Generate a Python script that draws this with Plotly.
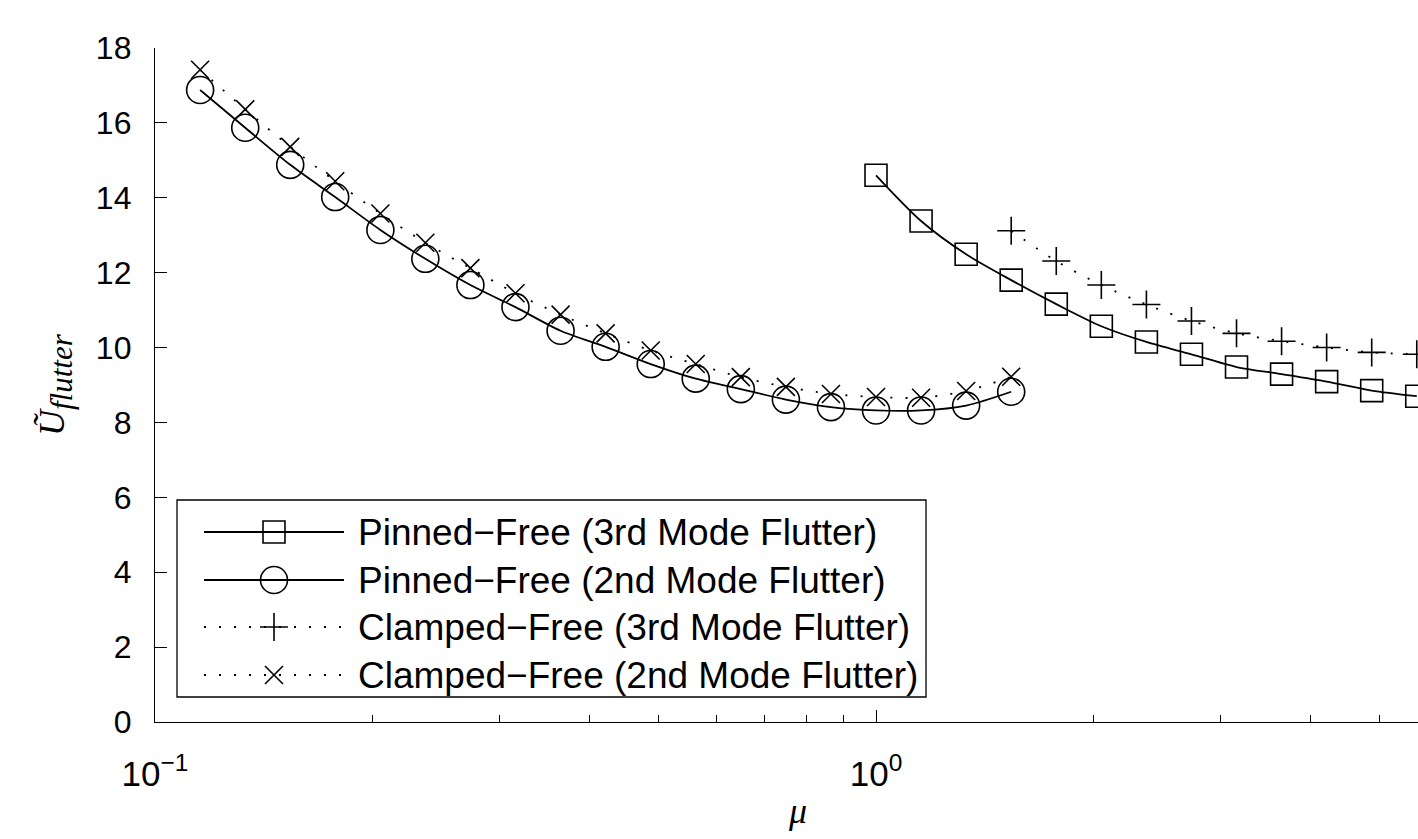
import plotly.graph_objects as go

# ---- data -------------------------------------------------------------
# mass ratio values (log spaced, 16 per decade)
mu_2nd = [0.1155, 0.1334, 0.1540, 0.1778, 0.2054, 0.2371, 0.2738, 0.3162,
          0.3652, 0.4217, 0.4870, 0.5623, 0.6494, 0.7499, 0.8660, 1.0,
          1.1548, 1.3335, 1.5399]
mu_pinned_3rd = [1.0, 1.1548, 1.3335, 1.5399, 1.7783, 2.0535, 2.3714,
                 2.7384, 3.1623, 3.6517, 4.2170, 4.8697, 5.6234]
mu_clamped_3rd = [1.5399, 1.7783, 2.0535, 2.3714, 2.7384, 3.1623, 3.6517,
                  4.2170, 4.8697, 5.6234]

u_pinned_2nd = [16.88, 15.87, 14.88, 14.02, 13.14, 12.37, 11.67, 11.08,
                10.45, 10.02, 9.56, 9.17, 8.89, 8.61, 8.41, 8.32, 8.32,
                8.45, 8.82]
u_clamped_2nd = [17.42, 16.36, 15.36, 14.44, 13.58, 12.80, 12.12, 11.45,
                 10.88, 10.38, 9.92, 9.56, 9.21, 8.95, 8.76, 8.68, 8.66,
                 8.84, 9.22]
u_pinned_3rd = [14.6, 13.38, 12.49, 11.8, 11.16, 10.57, 10.15, 9.82, 9.48,
                9.29, 9.09, 8.85, 8.7]
u_clamped_3rd = [13.12, 12.31, 11.67, 11.15, 10.71, 10.38, 10.17, 10.0,
                 9.87, 9.82]

series_names = ["Pinned\u2212Free (3rd Mode Flutter)",
                "Pinned\u2212Free (2nd Mode Flutter)",
                "Clamped\u2212Free (3rd Mode Flutter)",
                "Clamped\u2212Free (2nd Mode Flutter)"]

y_ticks = list(range(0, 19, 2))
x_major = [0.1, 1]
x_major_text = ["10<sup>\u22121</sup>", "10<sup>0</sup>"]
x_minor = [0.2, 0.3, 0.4, 0.5, 0.6, 0.7, 0.8, 0.9, 2, 3, 4, 5]

# ---- figure geometry ---------------------------------------------------
W, H = 1418, 839
L, R, T, B = 155, 0, 48, 117
X_RANGE = [-1, 0.7517]

INK = "black"
LW = 1.8
DOT = "2px,13px"
SANS = "Liberation Sans, Arial, sans-serif"
SERIF = "Liberation Serif, Times New Roman, serif"

styles = [
    dict(symbol="square-open", size=22, dash="solid"),
    dict(symbol="circle-open", size=27, dash="solid"),
    dict(symbol="cross-thin-open", size=20, dash=DOT),
    dict(symbol="x-thin-open", size=18, dash=DOT),
]
series = [(mu_pinned_3rd, u_pinned_3rd), (mu_2nd, u_pinned_2nd),
          (mu_clamped_3rd, u_clamped_3rd), (mu_2nd, u_clamped_2nd)]

fig = go.Figure()
for (xs, ys), st, name in zip(series, styles, series_names):
    fig.add_trace(go.Scatter(
        x=xs, y=ys, name=name, mode="lines+markers", showlegend=False,
        line=dict(color=INK, width=LW, dash=st["dash"], shape="spline",
                  smoothing=0.8),
        marker=dict(symbol=st["symbol"], size=st["size"], color=INK,
                    line=dict(color=INK, width=1.6)),
    ))

# ---- hand-drawn legend on a unit overlay axis --------------------------
pw, ph = W - L - R, H - T - B


def px(x):
    return (x - L) / pw


def py(y):
    return (H - B - y) / ph


box = dict(x0=177, x1=926, y0=500, y1=697)
row_y = [532, 580, 627, 675]
sample_x = (204, 274, 344)
text_x = 356

fig.add_shape(type="rect", xref="paper", yref="paper",
              x0=px(box["x0"]), x1=px(box["x1"]),
              y0=py(box["y1"]), y1=py(box["y0"]),
              line=dict(color=INK, width=1.3), fillcolor="white",
              layer="below")

for st, name, ry in zip(styles, series_names, row_y):
    fig.add_trace(go.Scatter(
        x=[px(sample_x[0]), px(sample_x[2])], y=[py(ry), py(ry)],
        xaxis="x2", yaxis="y2", mode="lines", showlegend=False,
        hoverinfo="skip", line=dict(color=INK, width=LW, dash=st["dash"])))
    fig.add_trace(go.Scatter(
        x=[px(sample_x[1])], y=[py(ry)], xaxis="x2", yaxis="y2",
        mode="markers", showlegend=False, hoverinfo="skip",
        marker=dict(symbol=st["symbol"], size=st["size"], color=INK,
                    line=dict(color=INK, width=1.6))))
    fig.add_annotation(text=name, xref="paper", yref="paper",
                       x=px(text_x), y=py(ry), xanchor="left",
                       yanchor="middle", showarrow=False,
                       font=dict(family=SANS, size=37, color=INK))

# axis titles
fig.add_annotation(text="<i>\u03bc</i>", xref="paper", yref="paper",
                   x=px(797), y=py(811), xanchor="center", yanchor="middle",
                   showarrow=False, font=dict(family=SERIF, size=36, color=INK))
fig.add_annotation(
    text="<i>\u0168</i><sub><span style='font-size:31px'><i>flutter</i>"
         "</span></sub>",
    xref="paper", yref="paper", x=px(55), y=py(385),
    xanchor="center", yanchor="middle", textangle=-90,
    showarrow=False, font=dict(family=SERIF, size=36, color=INK))

axis_common = dict(showline=True, linecolor=INK, linewidth=1.3,
                   ticks="inside", ticklen=12, tickwidth=1.3, tickcolor=INK,
                   showgrid=False, zeroline=False)

fig.update_layout(
    width=W, height=H,
    margin=dict(l=L, r=R, t=T, b=B),
    paper_bgcolor="white", plot_bgcolor="white",
    showlegend=False,
    xaxis=dict(type="log", range=X_RANGE, tickmode="array",
               tickvals=x_major, ticktext=x_major_text,
               tickfont=dict(family=SANS, size=35, color=INK),
               ticklabelstandoff=21,
               minor=dict(tickmode="array", tickvals=x_minor, ticks="inside",
                          ticklen=7, tickwidth=1.3, tickcolor=INK,
                          showgrid=False),
               **axis_common),
    yaxis=dict(range=[0, 18], tickmode="array", tickvals=y_ticks,
               tickfont=dict(family=SANS, size=32, color=INK),
               ticklabelstandoff=16,
               **axis_common),
    xaxis2=dict(overlaying="x", range=[0, 1], visible=False),
    yaxis2=dict(overlaying="y", range=[0, 1], visible=False),
)

fig.write_html("out.html")
